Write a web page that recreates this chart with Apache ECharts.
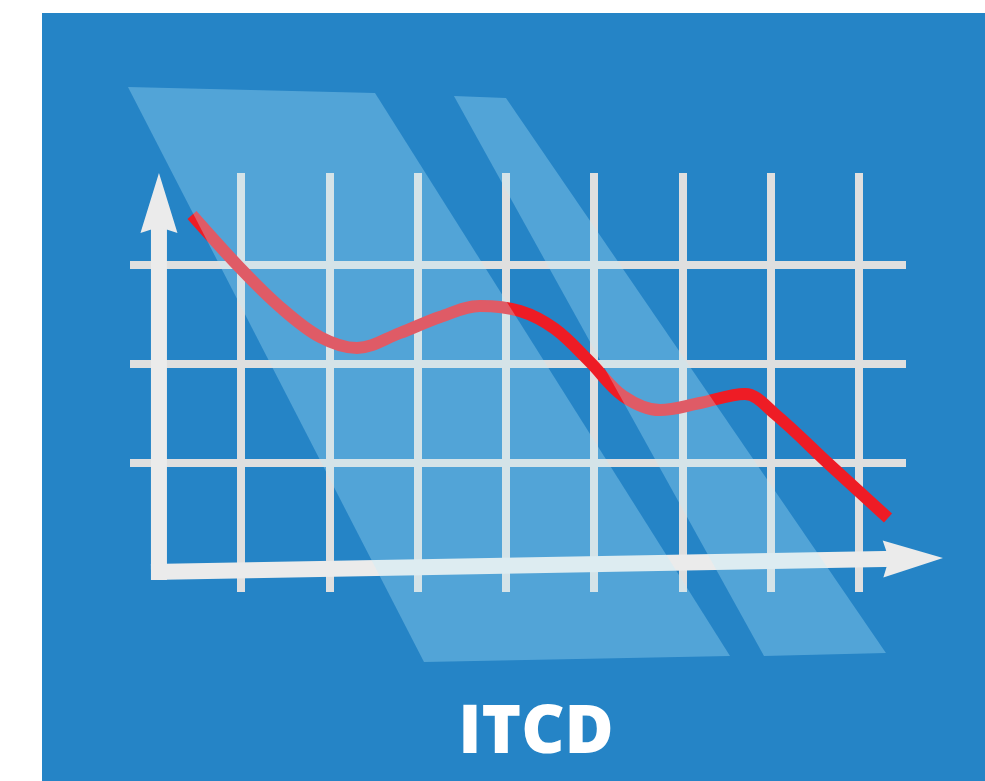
<!DOCTYPE html>
<html>
<head>
<meta charset="utf-8">
<script src="https://cdn.jsdelivr.net/npm/echarts@6/dist/echarts.min.js"></script>
<style>
html,body{margin:0;padding:0;background:#ffffff;}
#chart{width:985px;height:781px;}
</style>
</head>
<body>
<div id="chart"></div>
<script>
// ---- data (in chart units) ----
const titleText = 'ITCD';
const gridXValues = [1, 2, 3, 4, 5, 6, 7, 8];
const gridYValues = [1, 2, 3];
const trendX = [0.445, 1.000, 1.442, 1.895, 2.314, 2.801, 3.254, 3.707, 4.160, 4.556, 4.953, 5.327, 5.746, 6.199, 6.708, 7.048, 7.671, 8.328];
const trendY = [3.505, 2.960, 2.576, 2.273, 2.162, 2.313, 2.475, 2.586, 2.535, 2.354, 2.020, 1.677, 1.535, 1.606, 1.697, 1.495, 0.980, 0.444];
// stripe corners: x1,y1,x2,y2,x3,y3,x4,y4
const stripeA = [-0.280, 4.798, 2.518, 4.737, 6.539, -0.949, 3.073, -1.010];
const stripeB = [3.412, 4.707, 4.001, 4.687, 8.305, -0.919, 6.924, -0.949];
// axis arrows: start x,y -> tip x,y
const yAxisArrow = [0.071, -0.182, 0.071, 3.929];
const xAxisArrow = [-0.019, -0.101, 8.951, 0.040];

const trendData = trendX.map((x, i) => [x, trendY[i]]);

const chart = echarts.init(document.getElementById('chart'), null, {renderer: 'canvas'});

function renderStripe(params, api) {
  const pts = [];
  for (let i = 0; i < 4; i++) {
    pts.push(api.coord([api.value(2 * i), api.value(2 * i + 1)]));
  }
  return {
    type: 'polygon',
    shape: {points: pts},
    style: {fill: 'rgba(188,238,255,0.3)'}
  };
}

function renderArrow(params, api) {
  const p1 = api.coord([api.value(0), api.value(1)]);
  const p2 = api.coord([api.value(2), api.value(3)]);
  const dx = p2[0] - p1[0], dy = p2[1] - p1[1];
  const L = Math.hypot(dx, dy);
  const ux = dx / L, uy = dy / L;
  const nx = -uy, ny = ux;
  const headLen = 60, headHalf = 18.5, notch = 54, shaftHalf = 8, shaftEnd = 45;
  const color = '#EBEBEB';
  const se = [p2[0] - ux * shaftEnd, p2[1] - uy * shaftEnd];
  return {
    type: 'group',
    children: [
      {
        type: 'polygon',
        shape: {points: [
          [p1[0] + nx * shaftHalf, p1[1] + ny * shaftHalf],
          [se[0] + nx * shaftHalf, se[1] + ny * shaftHalf],
          [se[0] - nx * shaftHalf, se[1] - ny * shaftHalf],
          [p1[0] - nx * shaftHalf, p1[1] - ny * shaftHalf]
        ]},
        style: {fill: color}
      },
      {
        type: 'polygon',
        shape: {points: [
          [p2[0], p2[1]],
          [p2[0] - ux * headLen + nx * headHalf, p2[1] - uy * headLen + ny * headHalf],
          [p2[0] - ux * notch, p2[1] - uy * notch],
          [p2[0] - ux * headLen - nx * headHalf, p2[1] - uy * headLen - ny * headHalf]
        ]},
        style: {fill: color}
      }
    ]
  };
}

const option = {
  animation: false,
  backgroundColor: '#ffffff',
  graphic: [
    {
      type: 'rect',
      z: -100,
      silent: true,
      shape: {x: 42, y: 13, width: 943, height: 768},
      style: {fill: '#2584C6'}
    },
    {
      type: 'text',
      z: 100,
      x: 536,
      y: 734,
      style: {
        text: titleText,
        fill: '#ffffff',
        fontSize: 67,
        fontWeight: 800,
        fontFamily: '"Open Sans", "DejaVu Sans", sans-serif',
        align: 'center',
        verticalAlign: 'middle'
      }
    }
  ],
  grid: {left: 130, right: 79, top: 173, bottom: 189, containLabel: false},
  xAxis: {
    type: 'value', min: -0.257, max: 8.532,
    axisLine: {show: false}, axisTick: {show: false}, axisLabel: {show: false}, splitLine: {show: false}
  },
  yAxis: {
    type: 'value', min: -0.303, max: 3.929,
    axisLine: {show: false}, axisTick: {show: false}, axisLabel: {show: false}, splitLine: {show: false}
  },
  series: [
    {
      type: 'line',
      name: 'trend',
      z: 3,
      data: trendData,
      smooth: 0.35,
      symbol: 'none',
      silent: true,
      clip: false,
      lineStyle: {color: '#EE1C25', width: 12, cap: 'butt', join: 'round'},
      markLine: {
        z: 1,
        silent: true,
        animation: false,
        symbol: ['none', 'none'],
        label: {show: false},
        lineStyle: {type: 'solid', width: 8, color: '#DFDFDF'},
        emphasis: {disabled: true},
        data: gridXValues.map(v => ({xAxis: v})).concat(gridYValues.map(v => ({yAxis: v})))
      }
    },
    {
      type: 'custom',
      name: 'axes',
      z: 2,
      silent: true,
      clip: false,
      renderItem: renderArrow,
      data: [yAxisArrow, xAxisArrow]
    },
    {
      type: 'custom',
      name: 'stripes',
      z: 4,
      silent: true,
      clip: false,
      renderItem: renderStripe,
      data: [stripeA, stripeB]
    }
  ]
};
chart.setOption(option);
</script>
</body>
</html>
